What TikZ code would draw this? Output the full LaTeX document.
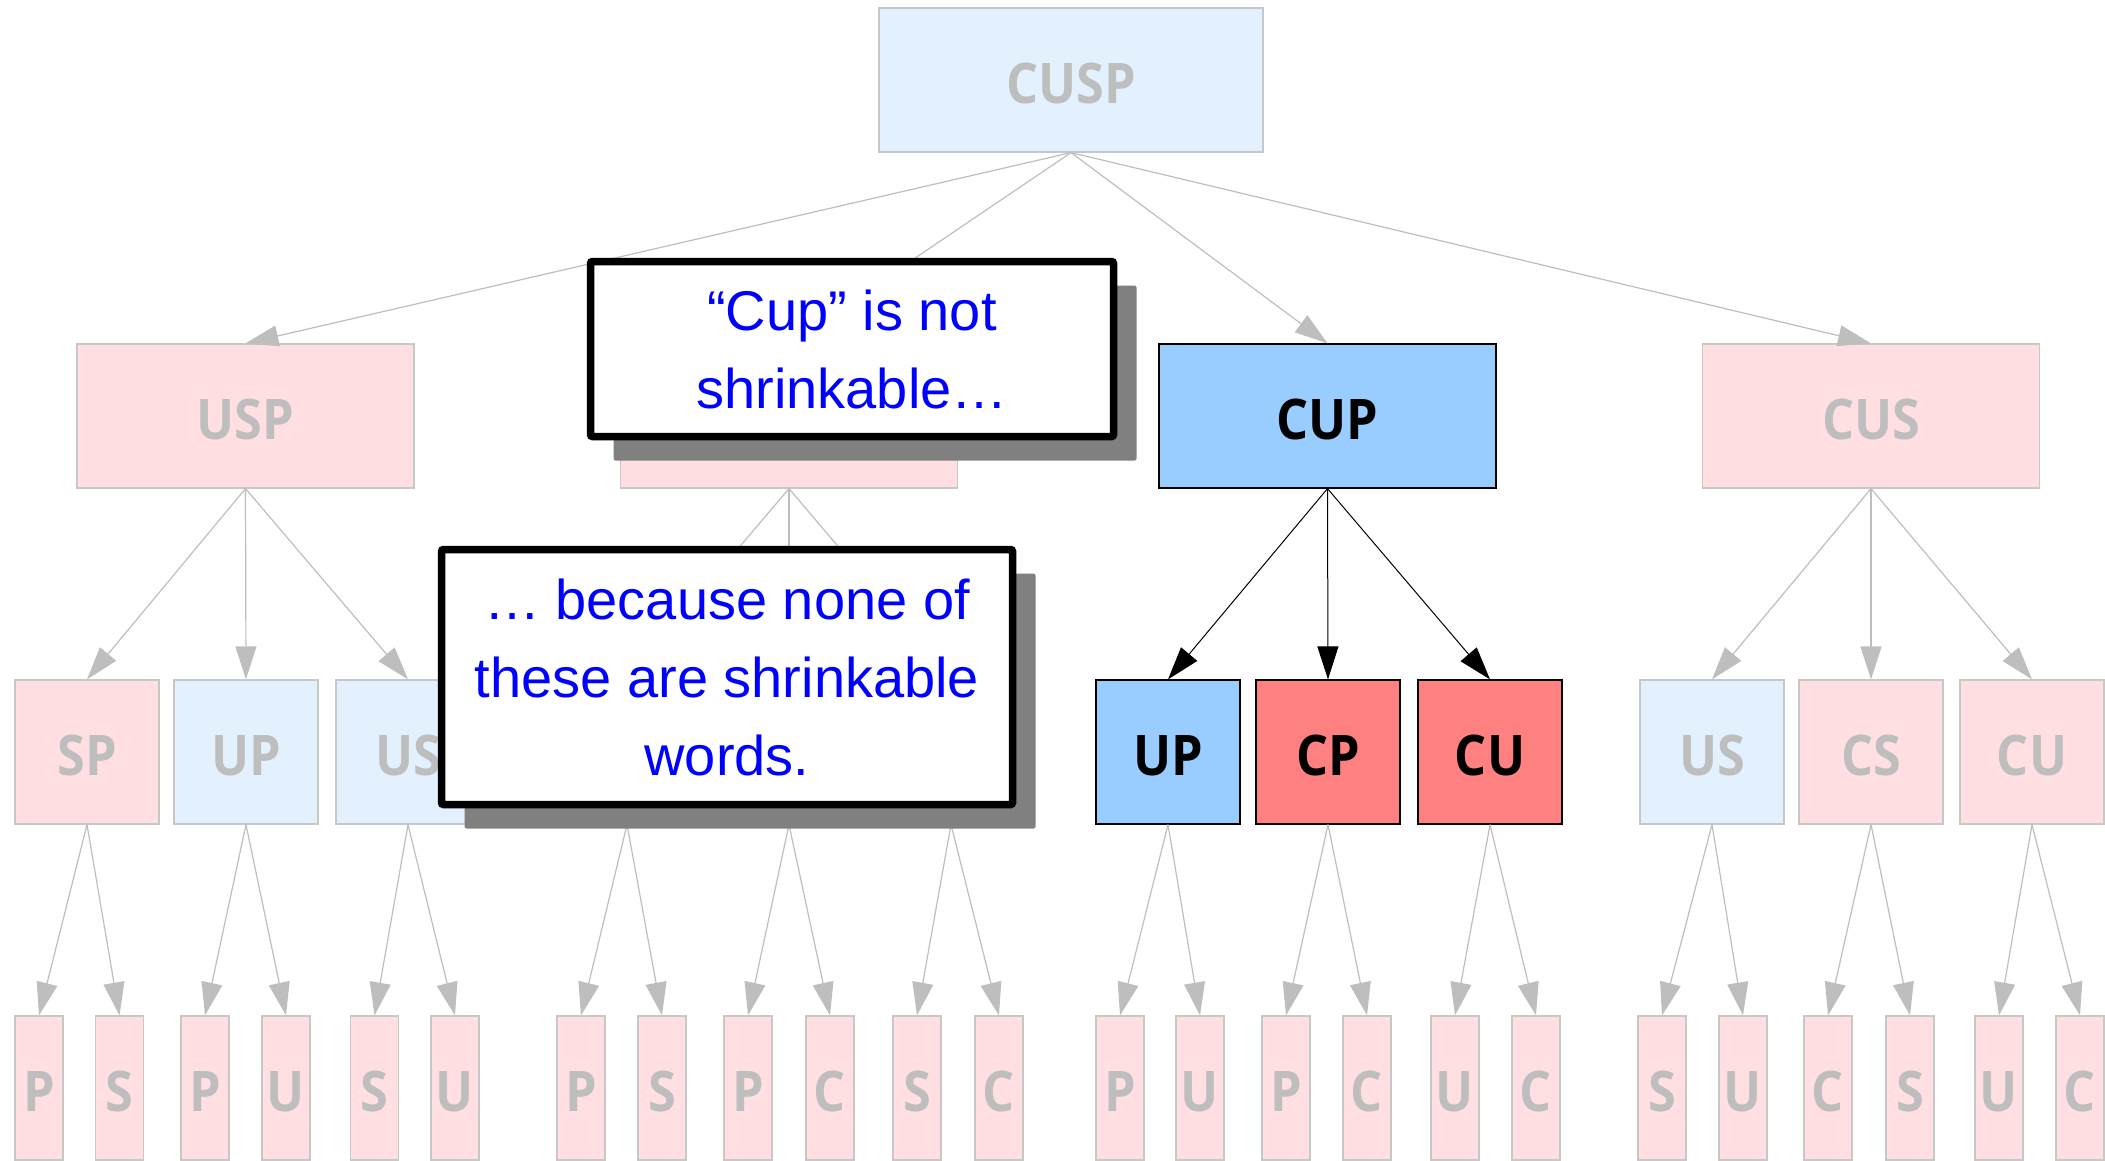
\documentclass[tikz,border=0pt]{standalone}
\usepackage{fontspec}
\setmainfont{Open Sans}[FakeStretch=0.9]
\newfontfamily\handfont{Liberation Sans}
\usetikzlibrary{arrows.meta,shadows}
\definecolor{fadeblue}{RGB}{227,241,255}
\definecolor{fadepink}{RGB}{255,223,226}
\definecolor{fadetext}{RGB}{190,190,190}
\definecolor{fadeborder}{RGB}{200,200,200}
\definecolor{hotblue}{RGB}{153,204,255}
\definecolor{hotred}{RGB}{255,128,128}
\definecolor{shadowgray}{RGB}{128,128,128}
\begin{document}
\begin{tikzpicture}[x=1pt,y=-1pt,
  box/.style={rectangle, draw, line width=1.2pt, inner sep=0pt,
    text height=47pt, text depth=0pt,
    font=\fontsize{56}{60}\selectfont\bfseries},
  lvA/.style={box, minimum width=384pt, minimum height=144pt},
  lvB/.style={box, minimum width=337pt, minimum height=144pt},
  lvC/.style={box, minimum width=144pt, minimum height=144pt},
  lvD/.style={box, minimum width=48pt, minimum height=144pt},
  fb/.style={draw=fadeborder, text=fadetext, fill=fadeblue},
  fp/.style={draw=fadeborder, text=fadetext, fill=fadepink},
  hb/.style={draw=black, text=black, fill=hotblue},
  hr/.style={draw=black, text=black, fill=hotred},
  fedge/.style={draw=fadetext, line width=1.2pt, -{Triangle[length=33pt,width=21pt]}},
  hedge/.style={draw=black, line width=1pt, -{Triangle[length=33pt,width=21pt]}},
  callout/.style={draw=black, line width=7.5pt, fill=white, rounded corners=2pt,
    align=center, text=blue, inner sep=0pt,
    font=\handfont\fontsize{56}{78}\selectfont,
    drop shadow={shadow xshift=23pt, shadow yshift=-24pt, fill=shadowgray, opacity=1}}
]
\useasboundingbox (0,0) rectangle (2105,1160);
\clip (0,0) rectangle (2105,1160);

% level 1
\node[lvA, fb] (cusp) at (1071,80) {CUSP};
% level 2
\node[lvB, fp] (usp) at (245.5,416) {USP};
\node[lvB, fp] (csp) at (789,416) {};
\node[lvB, hb] (cup) at (1327.5,416) {CUP};
\node[lvB, fp] (cus) at (1871,416) {CUS};
% level 3
\node[lvC, fp] (sp) at (87,752) {SP};
\node[lvC, fb] (up1) at (246,752) {UP};
\node[lvC, fb] (us1) at (408,752) {US};
\node[lvC, fp] (m1) at (627,752) {};
\node[lvC, fp] (m2) at (789,752) {};
\node[lvC, fp] (m3) at (951,752) {};
\node[lvC, hb] (up2) at (1168,752) {UP};
\node[lvC, hr] (cp) at (1328,752) {CP};
\node[lvC, hr] (cu1) at (1490,752) {CU};
\node[lvC, fb] (us2) at (1712,752) {US};
\node[lvC, fp] (cs) at (1871,752) {CS};
\node[lvC, fp] (cu2) at (2032,752) {CU};
% level 4
\node[lvD, fp] (d1) at (39,1088) {P};
\node[lvD, fp] (d2) at (119.5,1088) {S};
\node[lvD, fp] (d3) at (205,1088) {P};
\node[lvD, fp] (d4) at (286,1088) {U};
\node[lvD, fp] (d5) at (374.5,1088) {S};
\node[lvD, fp] (d6) at (455,1088) {U};
\node[lvD, fp] (d7) at (581,1088) {P};
\node[lvD, fp] (d8) at (662,1088) {S};
\node[lvD, fp] (d9) at (748,1088) {P};
\node[lvD, fp] (d10) at (830,1088) {C};
\node[lvD, fp] (d11) at (917,1088) {S};
\node[lvD, fp] (d12) at (999,1088) {C};
\node[lvD, fp] (d13) at (1120,1088) {P};
\node[lvD, fp] (d14) at (1200,1088) {U};
\node[lvD, fp] (d15) at (1286,1088) {P};
\node[lvD, fp] (d16) at (1367,1088) {C};
\node[lvD, fp] (d17) at (1455,1088) {U};
\node[lvD, fp] (d18) at (1536,1088) {C};
\node[lvD, fp] (d19) at (1662,1088) {S};
\node[lvD, fp] (d20) at (1743,1088) {U};
\node[lvD, fp] (d21) at (1828,1088) {C};
\node[lvD, fp] (d22) at (1910,1088) {S};
\node[lvD, fp] (d23) at (1999,1088) {U};
\node[lvD, fp] (d24) at (2080,1088) {C};

% edges level 1 -> 2
\foreach \c in {usp,csp,cup,cus} \draw[fedge] (cusp.south) -- (\c.north);
% edges level 2 -> 3
\foreach \c in {sp,up1,us1} \draw[fedge] (usp.south) -- (\c.north);
\foreach \c in {m1,m2,m3} \draw[fedge] (csp.south) -- (\c.north);
\foreach \c in {up2,cp,cu1} \draw[hedge] (cup.south) -- (\c.north);
\foreach \c in {us2,cs,cu2} \draw[fedge] (cus.south) -- (\c.north);
% edges level 3 -> 4
\foreach \p/\a/\b in {sp/d1/d2, up1/d3/d4, us1/d5/d6, m1/d7/d8, m2/d9/d10, m3/d11/d12,
  up2/d13/d14, cp/d15/d16, cu1/d17/d18, us2/d19/d20, cs/d21/d22, cu2/d23/d24}
  {\draw[fedge] (\p.south) -- (\a.north); \draw[fedge] (\p.south) -- (\b.north);}

% callouts
\node[callout, minimum width=523pt, minimum height=175pt] (noteA) at (852,349)
  {“Cup” is not\\shrinkable…};
\node[callout, minimum width=571pt, minimum height=255pt] (noteB) at (727,677)
  {… because none of\\these are shrinkable\\words.};
\end{tikzpicture}
\end{document}
